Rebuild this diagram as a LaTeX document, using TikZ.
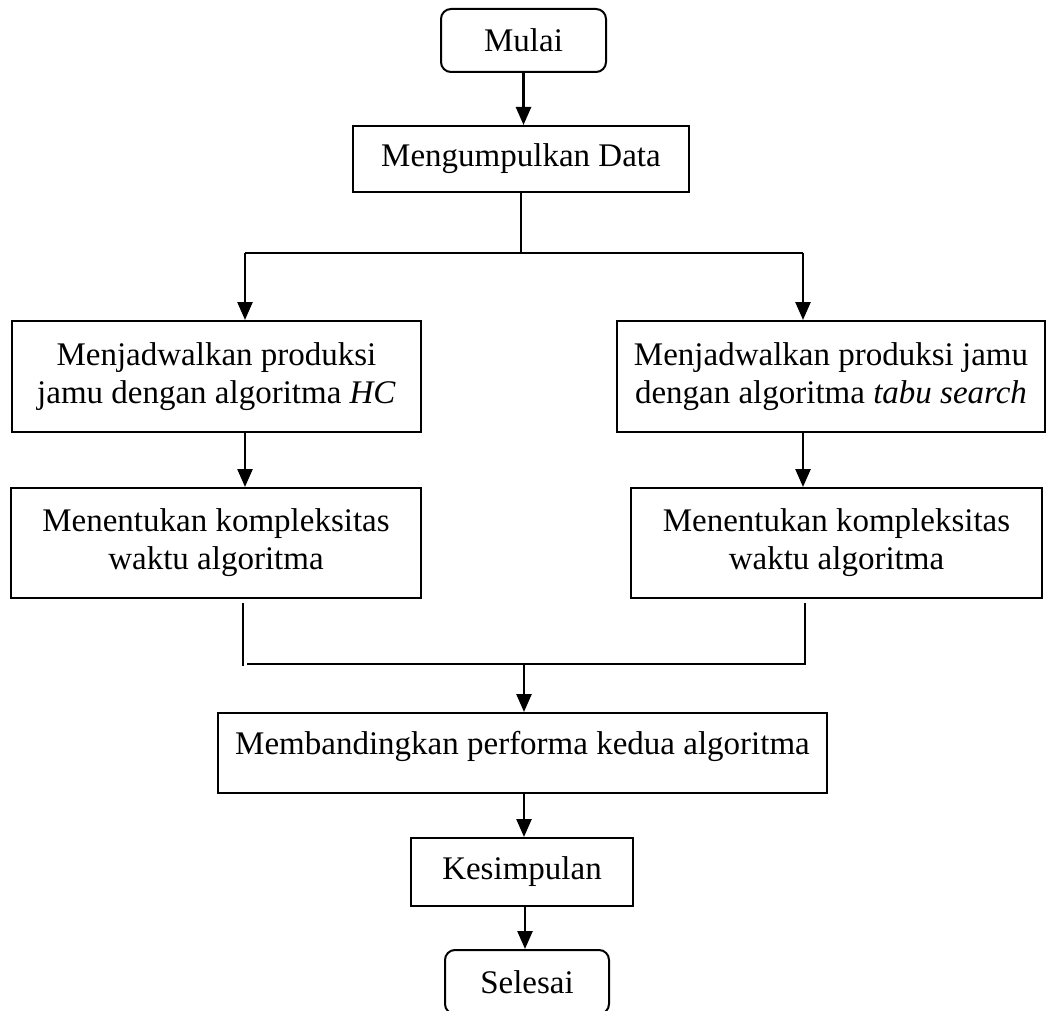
\documentclass[tikz,border=0pt]{standalone}
\usepackage{fontspec}
\setmainfont{Liberation Serif}
\usetikzlibrary{arrows.meta}

\tikzset{
  box/.style={draw, line width=2pt, inner sep=0pt, align=center,
    font=\fontsize{33}{38}\selectfont},
  term/.style={box, rounded corners=10pt},
  link/.style={line width=2.5pt},
  arr/.style={link, -{Triangle[length=18pt,width=15pt]}}
}

\begin{document}
\begin{tikzpicture}[x=1pt, y=-1pt]
  \useasboundingbox (0,0) rectangle (1047,1011);

  % process steps
  \node[term, minimum width=165pt, minimum height=63pt] (mulai) at (523.5,40.5) {Mulai};
  \node[box, minimum width=336pt, minimum height=66pt] (data) at (521,159) {Mengumpulkan Data};
  \node[box, minimum width=409pt, minimum height=111pt] (hc) at (216.5,376.5)
    {Menjadwalkan produksi\\jamu dengan algoritma \textit{HC}};
  \node[box, minimum width=428pt, minimum height=111pt] (ts) at (831,376.5)
    {Menjadwalkan produksi jamu\\dengan algoritma \textit{tabu search}};
  \node[box, minimum width=410pt, minimum height=110pt] (khc) at (216,543)
    {Menentukan kompleksitas\\waktu algoritma};
  \node[box, minimum width=411pt, minimum height=110pt] (kts) at (836.5,543)
    {Menentukan kompleksitas\\waktu algoritma};
  \node[box, minimum width=609pt, minimum height=80pt, text depth=21pt] (banding) at (522.5,753)
    {Membandingkan performa kedua algoritma};
  \node[box, minimum width=222pt, minimum height=68pt] (simpul) at (522,872) {Kesimpulan};
  \node[term, minimum width=164pt, minimum height=64pt] (selesai) at (527,982) {Selesai};

  % branch and merge points
  \coordinate (sl) at (245,253);
  \coordinate (sr) at (803,253);
  \coordinate (ml) at (243,664);
  \coordinate (mr) at (805,664);
  \coordinate (mm) at (524,664);

  % start to data collection
  \draw[arr] (mulai.south) -- (mulai.south |- data.north);

  % split into the two algorithms
  \draw[link] (data.south) -- (data.south |- sl);
  \draw[link] (sl) -- (sr);
  \draw[arr] (sl) -- (sl |- hc.north);
  \draw[arr] (sr) -- (sr |- ts.north);
  \draw[arr] (hc.south -| sl) -- (khc.north -| sl);
  \draw[arr] (ts.south -| sr) -- (kts.north -| sr);

  % merge the two branches
  \draw[line width=2pt] ([yshift=-4pt]khc.south -| ml) -- ([yshift=-2pt]ml);
  \draw[line width=2pt] ([xshift=4pt]ml) -- (mr) -- ([yshift=-4pt]kts.south -| mr);
  \draw[arr] (mm) -- (mm |- banding.north);

  % comparison to conclusion to end
  \draw[arr] (banding.south -| mm) -- (simpul.north -| mm);
  \draw[arr] ([xshift=1pt]simpul.south -| mm) -- ([xshift=1pt]selesai.north -| mm);
\end{tikzpicture}
\end{document}
